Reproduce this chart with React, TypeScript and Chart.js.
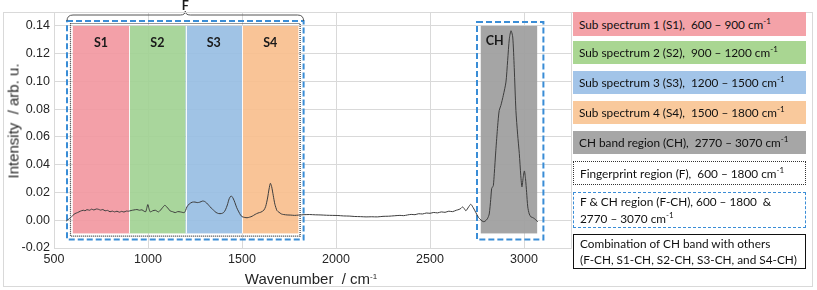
import React, { useEffect, useRef } from "react";
import { Chart, registerables } from "chart.js";

Chart.register(...registerables);

// ---- data ----
const wavenumbers = [
  564, 575, 590, 600, 612, 625, 640, 656, 665, 675, 690, 700, 712, 725, 736, 748, 760, 772, 785, 798,
  810, 822, 835, 848, 860, 872, 885, 896, 910, 925, 941, 955, 968, 980, 988, 993, 999, 1005, 1012, 1025,
  1039, 1048, 1056, 1066, 1078, 1090, 1100, 1110, 1118, 1130, 1145, 1158, 1172, 1185, 1193, 1200, 1207, 1220, 1235, 1250,
  1262, 1275, 1290, 1300, 1312, 1323, 1336, 1349, 1362, 1376, 1390, 1402, 1412, 1422, 1432, 1442, 1452, 1462, 1472, 1483,
  1492, 1500, 1515, 1527, 1540, 1554, 1570, 1585, 1600, 1616, 1626, 1636, 1644, 1651, 1658, 1666, 1675, 1686, 1696, 1710,
  1722, 1740, 1760, 1780, 1800, 1830, 1860, 1890, 1920, 1950, 1980, 2010, 2040, 2070, 2100, 2130, 2160, 2190, 2220, 2250,
  2280, 2310, 2340, 2360, 2380, 2400, 2420, 2440, 2460, 2480, 2500, 2520, 2540, 2560, 2580, 2600, 2620, 2640, 2655, 2665,
  2673, 2682, 2691, 2705, 2717, 2730, 2744, 2758, 2771, 2783, 2792, 2805, 2815, 2823, 2828, 2833, 2837, 2842, 2850, 2860,
  2868, 2877, 2890, 2904, 2913, 2922, 2931, 2940, 2948, 2957, 2966, 2975, 2983, 2989, 2995, 3002, 3008, 3014, 3020, 3028,
  3037, 3045, 3055, 3065, 3073,
];
const intensity = [
  -0.0007, 0.0005, 0.002, 0.0035, 0.0048, 0.0055, 0.0065, 0.0072, 0.0068, 0.0076, 0.0072, 0.008, 0.0074, 0.0081, 0.0079, 0.0073, 0.0077, 0.0068, 0.0071, 0.0061,
  0.0066, 0.006, 0.0065, 0.0058, 0.0064, 0.0059, 0.0066, 0.0065, 0.007, 0.0074, 0.0077, 0.0072, 0.0075, 0.0064, 0.0062, 0.0085, 0.0113, 0.0085, 0.006, 0.0068,
  0.0072, 0.0065, 0.006, 0.0072, 0.0092, 0.0108, 0.0095, 0.008, 0.0067, 0.0062, 0.0055, 0.0062, 0.006, 0.0056, 0.0055, 0.007, 0.0096, 0.0118, 0.013, 0.0131,
  0.0127, 0.013, 0.0138, 0.0136, 0.0124, 0.0108, 0.0088, 0.0072, 0.0056, 0.0048, 0.0048, 0.0055, 0.0075, 0.011, 0.0155, 0.0175, 0.016, 0.0128, 0.009, 0.006,
  0.0038, 0.0026, 0.002, 0.0018, 0.0022, 0.0029, 0.0042, 0.0052, 0.0058, 0.0072, 0.01, 0.016, 0.0225, 0.0266, 0.024, 0.018, 0.0115, 0.007, 0.0058, 0.0045,
  0.0041, 0.0038, 0.0037, 0.0035, 0.0037, 0.004, 0.0041, 0.0039, 0.0038, 0.0036, 0.0035, 0.0034, 0.0031, 0.003, 0.0027, 0.0026, 0.0024, 0.0025, 0.0024, 0.0028,
  0.0029, 0.0032, 0.0035, 0.0033, 0.0038, 0.0042, 0.004, 0.0047, 0.0045, 0.0052, 0.005, 0.0056, 0.0053, 0.006, 0.0057, 0.0065, 0.0062, 0.0072, 0.0078, 0.0086,
  0.0096, 0.0084, 0.0068, 0.0095, 0.0115, 0.009, 0.0055, 0.002, 0.0002, -0.001, -0.0008, 0.001, 0.0045, 0.015, 0.0228, 0.024, 0.025, 0.0336, 0.05, 0.068,
  0.079, 0.0827, 0.09, 0.0995, 0.115, 0.1307, 0.1365, 0.132, 0.11, 0.079, 0.062, 0.048, 0.032, 0.024, 0.03, 0.0355, 0.03, 0.02, 0.0096, 0.0045,
  0.0024, 0.002, 0.0012, 0.0, -0.0012,
];

const xTickValues = [500, 1000, 1500, 2000, 2500, 3000];
const yTickValues = [-0.02, 0, 0.02, 0.04, 0.06, 0.08, 0.1, 0.12, 0.14];

const subLabels = ["S1", "S2", "S3", "S4"];
const subStarts = [600, 900, 1200, 1500];
const subEnds = [900, 1200, 1500, 1800];
const chRange = [2770, 3070];
const fingerprintRange = [600, 1800];

const subColors = [
  "rgba(242,150,158,0.9)",
  "rgba(160,210,145,0.9)",
  "rgba(150,188,226,0.9)",
  "rgba(248,190,140,0.9)",
];
const chColor = "rgba(160,160,160,0.95)";
const blue = "#3a8dd6";

const regionPlugin = {
  id: "regions",
  beforeDatasetsDraw(chart: any) {
    const { ctx, scales } = chart;
    const xs = scales.x;
    const ys = scales.y;
    const top = ys.getPixelForValue(0.14);
    const bottom = ys.getPixelForValue(-0.0095);
    ctx.save();
    subStarts.forEach((s, i) => {
      const x0 = xs.getPixelForValue(s);
      const x1 = xs.getPixelForValue(subEnds[i]);
      ctx.fillStyle = subColors[i];
      ctx.fillRect(x0, top, x1 - x0, bottom - top);
    });
    ctx.strokeStyle = "rgba(255,255,255,0.9)";
    ctx.lineWidth = 1;
    [900, 1200, 1500].forEach((v) => {
      const x = Math.round(xs.getPixelForValue(v)) + 0.5;
      ctx.beginPath();
      ctx.moveTo(x, top);
      ctx.lineTo(x, bottom);
      ctx.stroke();
    });
    const c0 = xs.getPixelForValue(chRange[0]);
    const c1 = xs.getPixelForValue(chRange[1]);
    ctx.fillStyle = chColor;
    ctx.fillRect(c0, top, c1 - c0, bottom - top);

    const f0 = xs.getPixelForValue(fingerprintRange[0]);
    const f1 = xs.getPixelForValue(fingerprintRange[1]);
    ctx.strokeStyle = "#333";
    ctx.lineWidth = 1.2;
    ctx.setLineDash([1, 1]);
    ctx.strokeRect(Math.round(f0) - 2.5, Math.round(top) - 2.5, f1 - f0 + 4, bottom - top + 5);

    ctx.strokeStyle = blue;
    ctx.lineWidth = 2;
    ctx.setLineDash([6, 3]);
    ctx.strokeRect(Math.round(f0) - 6, Math.round(top) - 5, f1 - f0 + 11, bottom - top + 11);
    ctx.strokeRect(Math.round(c0) - 4, Math.round(top) - 4, c1 - c0 + 10, bottom - top + 10);
    ctx.setLineDash([]);

    ctx.fillStyle = "#1a1a1a";
    ctx.font = "bold 12.5px Lato, 'Open Sans', sans-serif";
    ctx.textAlign = "center";
    ctx.textBaseline = "middle";
    subLabels.forEach((l, i) => {
      const xc = (xs.getPixelForValue(subStarts[i]) + xs.getPixelForValue(subEnds[i])) / 2;
      ctx.fillText(l, xc, top + 17);
    });
    ctx.textAlign = "left";
    ctx.fillText("CH", c0 + 5, top + 15);

    const bx0 = Math.round(f0) - 6;
    const bx1 = bx0 + f1 - f0 + 11;
    const bc = (bx0 + bx1) / 2;
    const by = Math.round(top) - 5;
    ctx.strokeStyle = "#555";
    ctx.lineWidth = 1;
    ctx.beginPath();
    ctx.moveTo(bx0, by);
    ctx.quadraticCurveTo(bx0, by - 6, bx0 + 6, by - 6);
    ctx.lineTo(bc - 5, by - 6);
    ctx.quadraticCurveTo(bc, by - 6, bc, by - 10);
    ctx.quadraticCurveTo(bc, by - 6, bc + 5, by - 6);
    ctx.lineTo(bx1 - 6, by - 6);
    ctx.quadraticCurveTo(bx1, by - 6, bx1, by);
    ctx.stroke();
    ctx.textAlign = "center";
    ctx.fillText("F", bc, 5.5);
    ctx.restore();
  },
  afterDraw(chart: any) {
    const { ctx, chartArea } = chart;
    ctx.save();
    ctx.strokeStyle = "#d9d9d9";
    ctx.lineWidth = 1;
    ctx.strokeRect(
      Math.round(chartArea.left) + 0.5,
      Math.round(chartArea.top) + 0.5,
      Math.round(chartArea.right - chartArea.left),
      Math.round(chartArea.bottom - chartArea.top)
    );
    ctx.strokeRect(3.5, 12.5, 809, 274);
    ctx.restore();
  },
};

const legendBox: React.CSSProperties = {
  position: "absolute",
  left: 573,
  width: 233,
  boxSizing: "border-box",
  paddingLeft: 6,
  display: "flex",
  flexDirection: "column",
  justifyContent: "center",
  fontFamily: "Lato, 'Open Sans', sans-serif",
  fontSize: 11.8,
  color: "#111",
  whiteSpace: "pre",
  lineHeight: "17px",
};

const Sup = () => <sup style={{ fontSize: 8, verticalAlign: "5px", lineHeight: 0 }}>-1</sup>;

export default function App() {
  const ref = useRef<HTMLCanvasElement>(null);
  useEffect(() => {
    if (!ref.current) return;
    const chart = new Chart(ref.current, {
      type: "line",
      data: {
        datasets: [
          {
            data: wavenumbers.map((w, i) => ({ x: w, y: intensity[i] })),
            borderColor: "#3c3c3c",
            borderWidth: 1,
            pointRadius: 0,
            tension: 0.25,
            fill: false,
          },
        ],
      },
      options: {
        animation: false,
        responsive: false,
        devicePixelRatio: 1,
        layout: { padding: { top: 12, right: 246, left: 0, bottom: 0 } },
        plugins: { legend: { display: false }, tooltip: { enabled: false } },
        scales: {
          x: {
            type: "linear",
            min: 500,
            max: 3250,
            afterFit: (s: any) => {
              s.height = 42;
            },
            afterBuildTicks: (s: any) => {
              s.ticks = xTickValues.map((v) => ({ value: v }));
            },
            grid: { color: "#d9d9d9", drawTicks: false },
            border: { color: "#d9d9d9" },
            ticks: {
              padding: 4,
              color: "#262626",
              font: { family: "'Liberation Sans', Arial, sans-serif", size: 12.5 },
              callback: (v: any) => String(v),
              maxRotation: 0,
            },
          },
          y: {
            type: "linear",
            min: -0.02,
            max: 0.15,
            afterFit: (s: any) => {
              s.width = 54;
            },
            afterBuildTicks: (s: any) => {
              s.ticks = yTickValues.map((v) => ({ value: v }));
            },
            grid: { color: "#d9d9d9", drawTicks: false },
            border: { color: "#d9d9d9" },
            ticks: {
              padding: 4,
              color: "#262626",
              font: { family: "'Liberation Sans', Arial, sans-serif", size: 12.5 },
              callback: (v: any) => Number(v).toFixed(2),
            },
          },
        },
      },
      plugins: [regionPlugin],
    });
    return () => chart.destroy();
  }, []);

  return (
    <div style={{ position: "absolute", left: 0, top: 0, width: 817, height: 290, background: "#fff" }}>
      <canvas ref={ref} width={817} height={290} style={{ width: 817, height: 290, display: "block" }} />
      <div
        style={{
          position: "absolute",
          left: 13,
          top: 121,
          transform: "translate(-50%, -50%) rotate(-90deg)",
          fontFamily: "'Liberation Sans', Arial, sans-serif",
          fontSize: 15,
          color: "#262626",
          whiteSpace: "pre",
        }}
      >
        {"Intensity  / arb. u."}
      </div>
      <div
        style={{
          position: "absolute",
          left: 311,
          top: 278,
          transform: "translate(-50%, -50%)",
          fontFamily: "'Liberation Sans', Arial, sans-serif",
          fontSize: 15,
          color: "#262626",
          whiteSpace: "pre",
        }}
      >
        {"Wavenumber  / cm"}
        <Sup />
      </div>

      <div style={{ ...legendBox, top: 12, height: 24, background: "#f4a2a8" }}>
        <div>Sub spectrum 1 (S1),  600 – 900 cm<Sup /></div>
      </div>
      <div style={{ ...legendBox, top: 41, height: 23, background: "#a9d692" }}>
        <div>Sub spectrum 2 (S2),  900 – 1200 cm<Sup /></div>
      </div>
      <div style={{ ...legendBox, top: 71, height: 23, background: "#a2c4e8" }}>
        <div>Sub spectrum 3 (S3),  1200 – 1500 cm<Sup /></div>
      </div>
      <div style={{ ...legendBox, top: 101, height: 23, background: "#f9c99c" }}>
        <div>Sub spectrum 4 (S4),  1500 – 1800 cm<Sup /></div>
      </div>
      <div style={{ ...legendBox, top: 131, height: 23, background: "#a6a6a6" }}>
        <div>CH band region (CH),  2770 – 3070 cm<Sup /></div>
      </div>
      <div style={{ ...legendBox, top: 161, height: 24, background: "#fff", border: "1px dotted #333" }}>
        <div>Fingerprint region (F),  600 – 1800 cm<Sup /></div>
      </div>
      <div style={{ ...legendBox, top: 192, height: 36, background: "#fff", border: "1.5px dashed " + blue, lineHeight: "17px" }}>
        <div>F &amp; CH region (F-CH), 600 – 1800  &amp;</div>
        <div>2770 – 3070 cm<Sup /></div>
      </div>
      <div style={{ ...legendBox, top: 234, height: 35, background: "#fff", border: "1.5px solid #111", lineHeight: "16px" }}>
        <div>Combination of CH band with others</div>
        <div>(F-CH, S1-CH, S2-CH, S3-CH, and S4-CH)</div>
      </div>
    </div>
  );
}
